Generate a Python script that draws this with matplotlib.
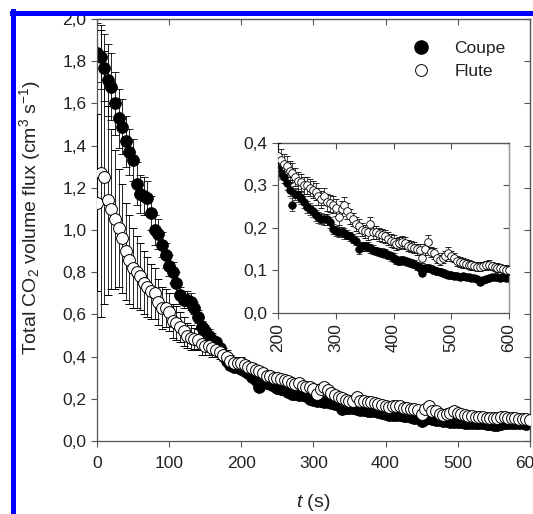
import matplotlib
matplotlib.use('Agg')
import matplotlib.pyplot as plt
import numpy as np
from matplotlib.ticker import FuncFormatter
from matplotlib.lines import Line2D

plt.rcParams['font.family'] = ['Liberation Sans', 'DejaVu Sans']
plt.rcParams['mathtext.fontset'] = 'custom'
plt.rcParams['mathtext.rm'] = 'Liberation Sans'
plt.rcParams['mathtext.it'] = 'Liberation Sans:italic'

# time grid (s)
t = np.arange(0, 601, 5)

coupe = [1.84, 1.82, 1.77, 1.71, 1.68, 1.60, 1.53, 1.49, 1.42, 1.37, 1.33, 1.22, 1.17, 1.16, 1.15, 1.08, 1.00, 0.98, 0.93, 0.88, 0.83,
         0.80, 0.75, 0.69, 0.67, 0.67, 0.66, 0.63, 0.59, 0.54, 0.52, 0.50, 0.48, 0.47, 0.44, 0.41, 0.38, 0.36, 0.35, 0.35, 0.34,
         0.33, 0.32, 0.305, 0.29, 0.255, 0.28, 0.277, 0.27, 0.26, 0.25, 0.245, 0.24, 0.23, 0.225, 0.222, 0.22, 0.22, 0.213, 0.198, 0.193,
         0.19, 0.19, 0.187, 0.184, 0.18, 0.175, 0.17, 0.15, 0.157, 0.157, 0.156, 0.152, 0.149, 0.146, 0.144, 0.142, 0.14, 0.137, 0.133, 0.13,
         0.125, 0.122, 0.125, 0.123, 0.12, 0.118, 0.115, 0.11, 0.107, 0.095, 0.105, 0.107, 0.104, 0.10, 0.098, 0.097, 0.095, 0.092, 0.09, 0.089,
         0.088, 0.087, 0.085, 0.086, 0.085, 0.085, 0.083, 0.082, 0.08, 0.074, 0.078, 0.08, 0.083, 0.084, 0.085, 0.085, 0.083, 0.084, 0.082, 0.083]

flute = [1.13, 1.27, 1.25, 1.14, 1.10, 1.05, 1.01, 0.96, 0.90, 0.86, 0.82, 0.80, 0.78, 0.75, 0.73, 0.71, 0.70, 0.66, 0.63, 0.63, 0.61,
         0.57, 0.56, 0.54, 0.52, 0.50, 0.49, 0.485, 0.48, 0.46, 0.45, 0.45, 0.44, 0.43, 0.42, 0.41, 0.40, 0.38, 0.37, 0.37, 0.37,
         0.36, 0.35, 0.345, 0.335, 0.33, 0.32, 0.31, 0.308, 0.30, 0.30, 0.295, 0.29, 0.285, 0.275, 0.268, 0.275, 0.26, 0.258, 0.255, 0.248,
         0.225, 0.245, 0.255, 0.24, 0.227, 0.22, 0.21, 0.205, 0.196, 0.192, 0.19, 0.21, 0.19, 0.19, 0.185, 0.183, 0.18, 0.175, 0.17, 0.168,
         0.162, 0.165, 0.168, 0.165, 0.158, 0.156, 0.153, 0.15, 0.149, 0.13, 0.15, 0.168, 0.144, 0.14, 0.13, 0.125, 0.13, 0.135, 0.142, 0.135,
         0.13, 0.122, 0.12, 0.118, 0.116, 0.114, 0.112, 0.11, 0.109, 0.109, 0.11, 0.112, 0.114, 0.11, 0.108, 0.107, 0.106, 0.104, 0.102, 0.10]

coupe_err = [0.14, 0.15, 0.16, 0.17, 0.16, 0.15, 0.14, 0.13, 0.12, 0.11, 0.10, 0.10, 0.09, 0.09, 0.08, 0.08, 0.07, 0.07, 0.06, 0.06, 0.05,
             0.05, 0.05, 0.04, 0.04, 0.04, 0.04, 0.03, 0.03, 0.03, 0.03, 0.03, 0.03, 0.02, 0.02, 0.02, 0.02, 0.02, 0.02, 0.02, 0.02,
             0.015, 0.015, 0.015, 0.015, 0.015, 0.015, 0.015, 0.014, 0.014, 0.014, 0.014, 0.014, 0.013, 0.013, 0.013, 0.013, 0.013, 0.012, 0.012, 0.012,
             0.012, 0.012, 0.012, 0.011, 0.011, 0.011, 0.011, 0.011, 0.011, 0.010, 0.010, 0.010, 0.010, 0.010, 0.010, 0.010, 0.010, 0.010, 0.010, 0.010,
             0.009, 0.009, 0.009, 0.009, 0.009, 0.009, 0.009, 0.009, 0.009, 0.009, 0.008, 0.008, 0.008, 0.008, 0.008, 0.008, 0.008, 0.008, 0.008, 0.008,
             0.008, 0.008, 0.008, 0.007, 0.007, 0.007, 0.007, 0.007, 0.007, 0.007, 0.007, 0.007, 0.007, 0.007, 0.007, 0.007, 0.007, 0.007, 0.007, 0.007]

flute_err = [0.42, 0.68, 0.60, 0.45, 0.38, 0.33, 0.28, 0.26, 0.23, 0.21, 0.19, 0.17, 0.16, 0.15, 0.14, 0.13, 0.12, 0.11, 0.10, 0.09, 0.09,
             0.08, 0.08, 0.07, 0.07, 0.06, 0.06, 0.05, 0.05, 0.05, 0.04, 0.04, 0.04, 0.03, 0.03, 0.03, 0.03, 0.03, 0.03, 0.03, 0.03,
             0.025, 0.025, 0.025, 0.022, 0.022, 0.022, 0.022, 0.02, 0.02, 0.02, 0.02, 0.02, 0.02, 0.02, 0.02, 0.02, 0.02, 0.02, 0.02, 0.02,
             0.018, 0.018, 0.018, 0.018, 0.018, 0.016, 0.016, 0.016, 0.016, 0.016, 0.018, 0.016, 0.015, 0.015, 0.015, 0.015, 0.015, 0.015, 0.015, 0.015,
             0.014, 0.014, 0.014, 0.014, 0.013, 0.013, 0.013, 0.013, 0.013, 0.013, 0.013, 0.015, 0.012, 0.012, 0.012, 0.012, 0.012, 0.012, 0.014, 0.012,
             0.011, 0.011, 0.011, 0.011, 0.010, 0.010, 0.010, 0.010, 0.010, 0.010, 0.010, 0.010, 0.010, 0.010, 0.010, 0.010, 0.010, 0.010, 0.010, 0.010]

coupe = np.array(coupe)
flute = np.array(flute)
coupe_err = np.array(coupe_err)
flute_err = np.array(flute_err)

spine_col = '#555555'
text_col = '#222222'

def comma(v, pos):
    return ('%.1f' % v).replace('.', ',')

fig = plt.figure(figsize=(5.33, 5.14), dpi=100)

# main axes
ax = fig.add_axes([0.182, 0.142, 0.812, 0.821])
ax.errorbar(t, coupe, yerr=coupe_err, fmt='o', ms=8.5, mfc='black', mec='black', mew=0.6,
            ecolor='black', elinewidth=0.6, capsize=3, capthick=0.6, zorder=2)
ax.errorbar(t, flute, yerr=flute_err, fmt='o', ms=8.5, mfc='white', mec='black', mew=0.7,
            ecolor='black', elinewidth=0.6, capsize=3, capthick=0.6, zorder=3)
ax.set_xlim(0, 600)
ax.set_ylim(0, 2.0)
ax.set_xticks(np.arange(0, 601, 100))
ax.set_yticks(np.arange(0, 2.01, 0.2))
ax.yaxis.set_major_formatter(FuncFormatter(comma))
ax.tick_params(direction='out', length=4, width=0.8, color=spine_col, labelsize=12.5, labelcolor=text_col)
ax.tick_params(axis='x', pad=7)
for s in ax.spines.values():
    s.set_color(spine_col)
    s.set_linewidth(0.9)
top = ax.secondary_xaxis('top')
top.set_xticks(np.arange(0, 601, 100))
top.tick_params(direction='in', length=4, width=0.8, color=spine_col, labeltop=False)
right = ax.secondary_yaxis('right')
right.set_yticks(np.arange(0, 2.01, 0.2))
right.tick_params(direction='in', length=4, width=0.8, color=spine_col, labelright=False)

ax.set_xlabel('$t$ (s)', fontsize=14, color=text_col, va='top')
ax.xaxis.set_label_coords(0.5, -0.122)
ax.set_ylabel('Total CO$_2$ volume flux (cm$^3$ s$^{-1}$)', fontsize=14, color=text_col, va='center')
ax.yaxis.set_label_coords(-0.155, 0.53)

handles = [Line2D([], [], ls='none', marker='o', ms=9.5, mfc='black', mec='black'),
           Line2D([], [], ls='none', marker='o', ms=8.5, mfc='white', mec='black', mew=0.7)]
leg = ax.legend(handles, ['Coupe', 'Flute'], loc='upper right', bbox_to_anchor=(0.98, 0.985),
                frameon=False, fontsize=12.5, handletextpad=1.3, labelspacing=0.45, handlelength=1.2)
for txt in leg.get_texts():
    txt.set_color(text_col)

# inset
ins = fig.add_axes([0.5216, 0.391, 0.4334, 0.331])
m = t >= 200
ins.errorbar(t[m], coupe[m], yerr=coupe_err[m], fmt='o', ms=5.5, mfc='black', mec='black', mew=0.5,
             ecolor='black', elinewidth=0.5, capsize=2.5, capthick=0.5, zorder=2)
ins.errorbar(t[m], flute[m], yerr=flute_err[m], fmt='o', ms=5.5, mfc='white', mec='black', mew=0.6,
             ecolor='black', elinewidth=0.5, capsize=2.5, capthick=0.5, zorder=3)
ins.set_xlim(200, 600)
ins.set_ylim(0, 0.4)
ins.set_xticks(np.arange(200, 601, 100))
ins.set_yticks(np.arange(0, 0.41, 0.1))
ins.yaxis.set_major_formatter(FuncFormatter(comma))
ins.tick_params(direction='out', length=4, width=0.8, color=spine_col, labelsize=12.5, labelcolor=text_col)
ins.tick_params(axis='x', labelrotation=90)
for s in ins.spines.values():
    s.set_color(spine_col)
    s.set_linewidth(0.9)
ins.spines['right'].set_color('#999999')
itop = ins.secondary_xaxis('top')
itop.set_xticks(np.arange(200, 601, 100))
itop.tick_params(direction='in', length=4, width=0.8, color=spine_col, labeltop=False)
iright = ins.secondary_yaxis('right')
iright.set_yticks(np.arange(0, 0.41, 0.1))
iright.tick_params(direction='in', length=4, width=0.8, color=spine_col, labelright=False)

# blue frame along top and left edges
fig.add_artist(Line2D([0.0225, 1.0], [1 - 12.5 / 514, 1 - 12.5 / 514], transform=fig.transFigure, color='#0000ff', lw=3.6))
fig.add_artist(Line2D([12.5 / 533, 12.5 / 533], [0.0, 1 - 10.5 / 514], transform=fig.transFigure, color='#0000ff', lw=3.6))

plt.savefig('out.png', dpi=100)
